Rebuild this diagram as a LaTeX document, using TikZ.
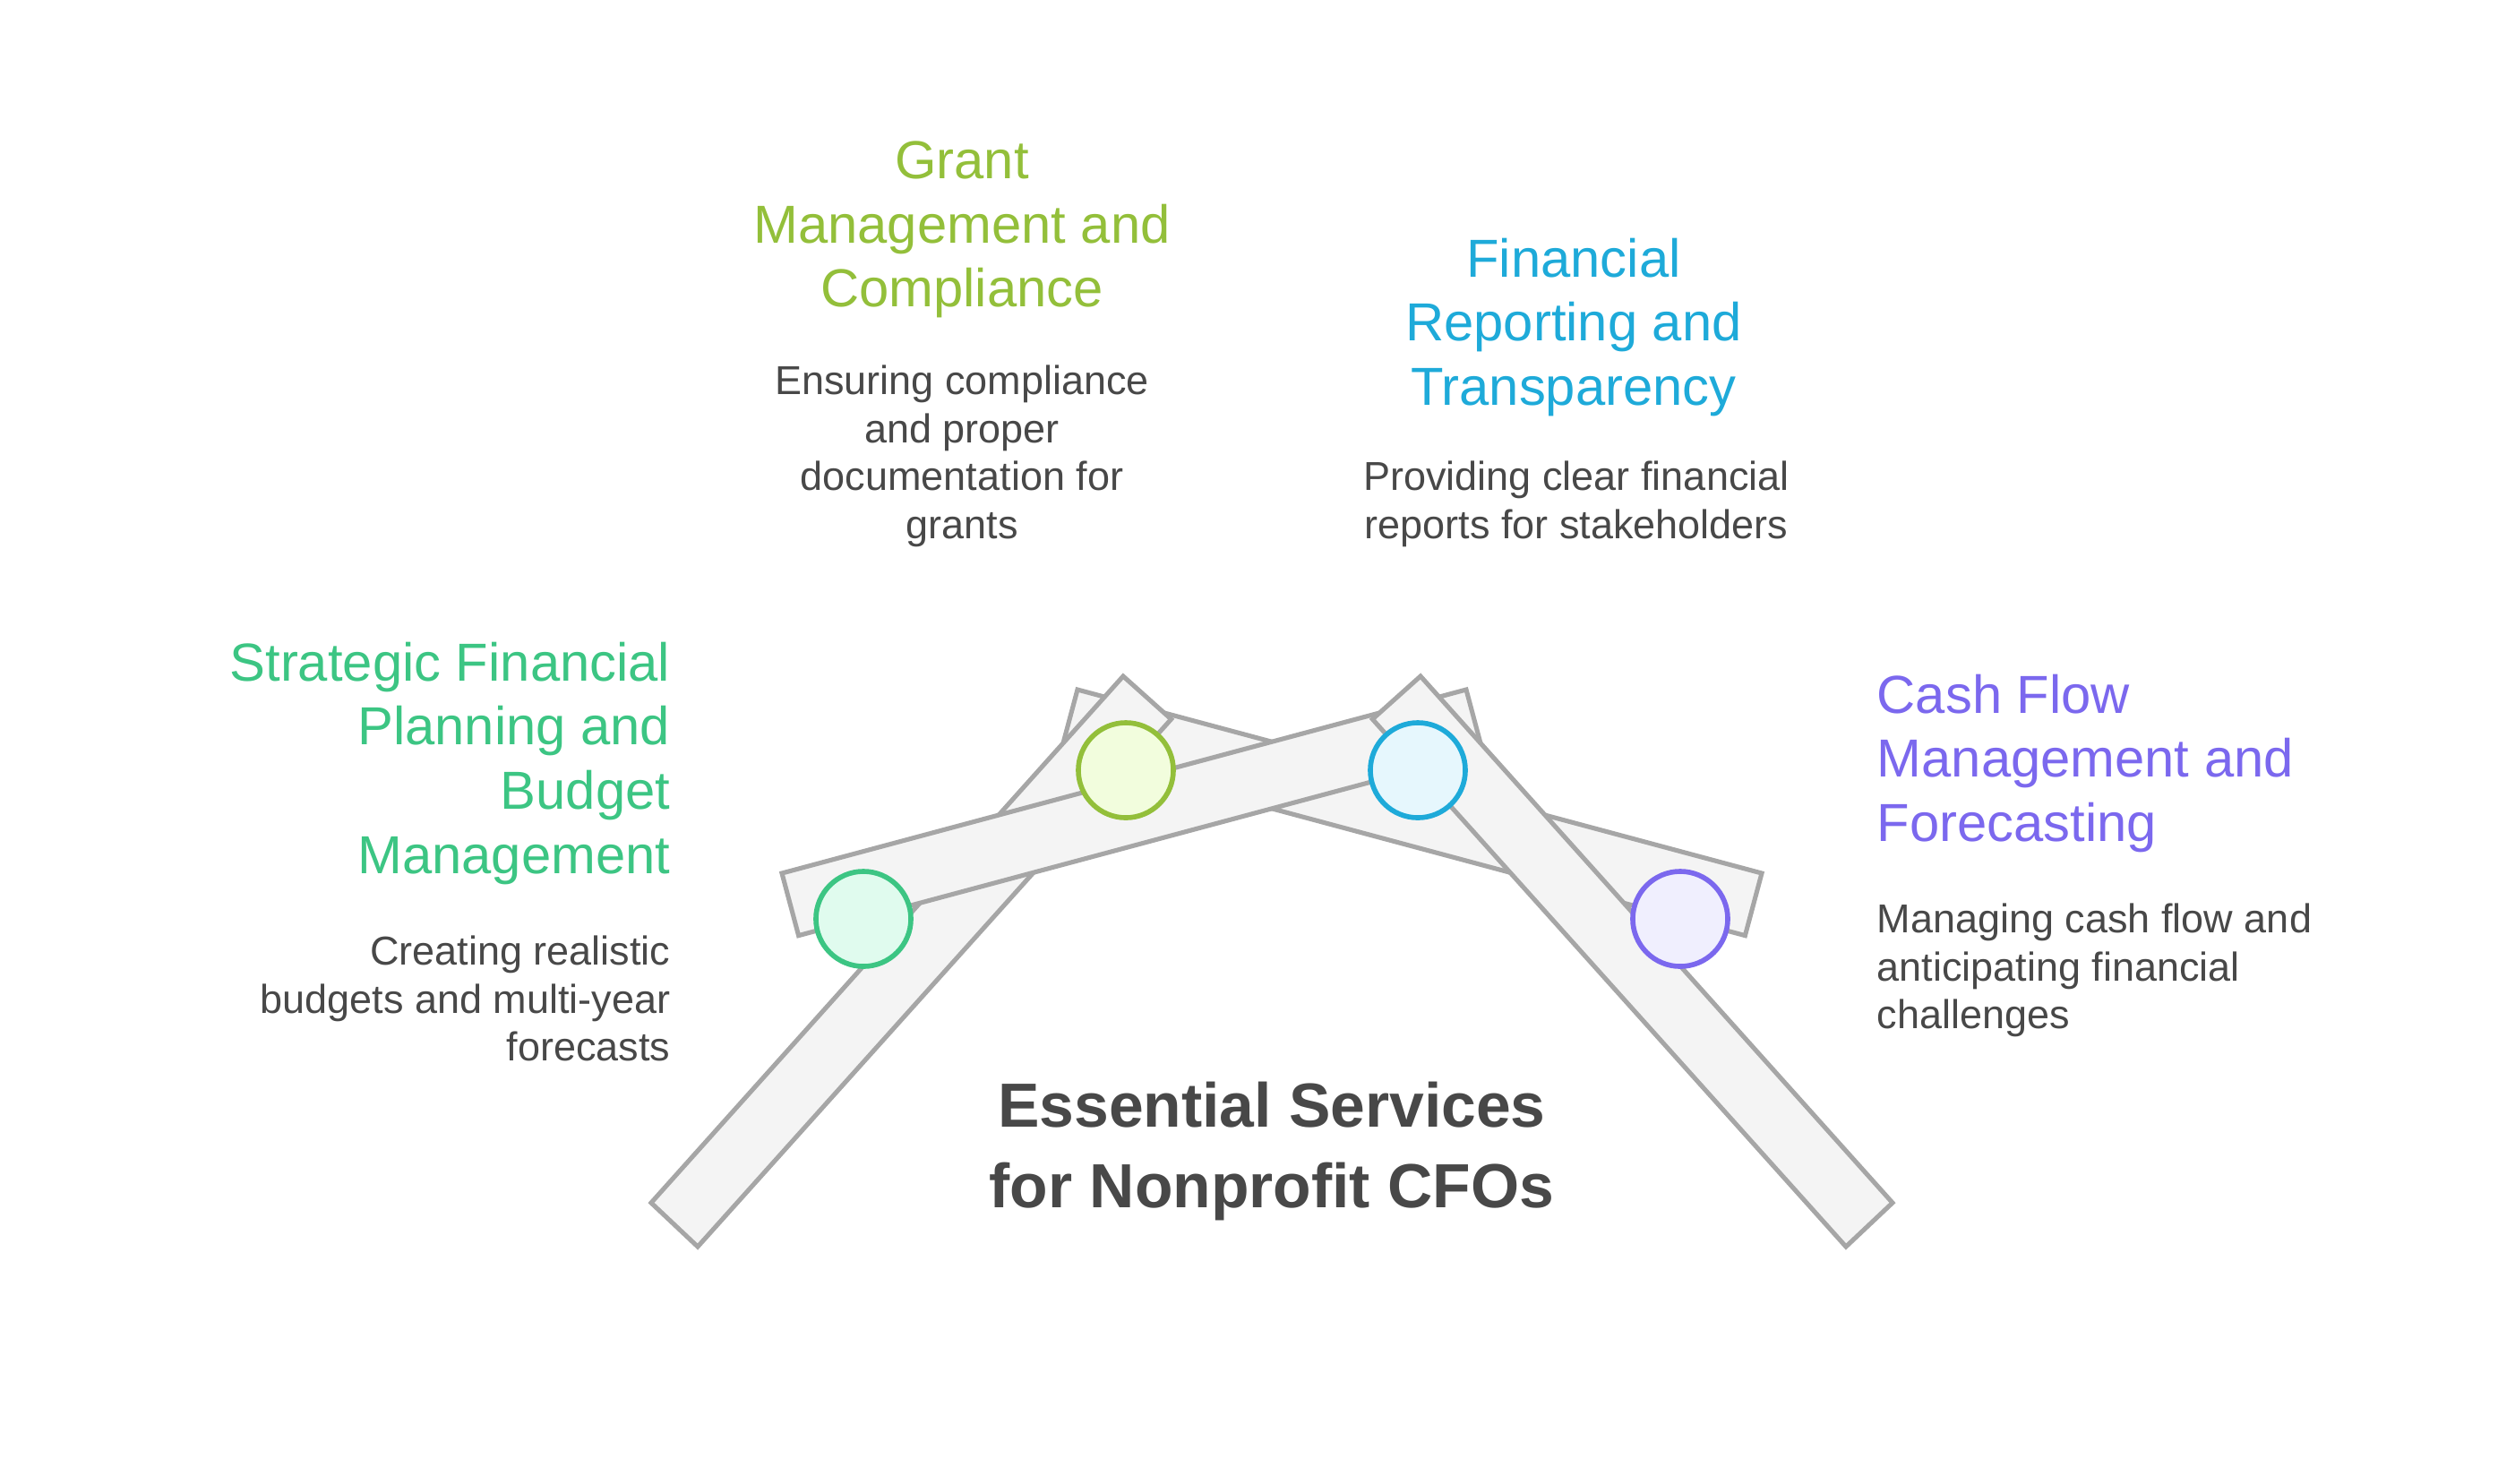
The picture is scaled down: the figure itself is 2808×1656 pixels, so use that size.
\documentclass[tikz,border=0pt]{standalone}
\usepackage{fontspec}
\setmainfont{Liberation Sans}
\usetikzlibrary{positioning}
\definecolor{Ink}{HTML}{484848}
\definecolor{BarFill}{HTML}{F4F4F4}
\definecolor{BarLine}{HTML}{A6A6A6}
\definecolor{Green}{HTML}{3CC583}
\definecolor{GreenSoft}{HTML}{E0FBEE}
\definecolor{Lime}{HTML}{93BF3A}
\definecolor{LimeSoft}{HTML}{F2FDDD}
\definecolor{Sky}{HTML}{1EAAD9}
\definecolor{SkySoft}{HTML}{E6F7FD}
\definecolor{Violet}{HTML}{7B68EE}
\definecolor{VioletSoft}{HTML}{F0EFFE}
\tikzset{
  bar/.style={draw=BarLine,fill=BarFill,line width=1.45pt,line join=miter},
  joint/.style={circle,minimum size=1.06cm,inner sep=0pt,line width=1.6pt},
  head/.style={inner sep=0pt,font=\fontsize{17pt}{20.4pt}\selectfont},
  desc/.style={inner sep=0pt,text=Ink,font=\fontsize{12.8pt}{15.3pt}\selectfont},
  maintitle/.style={inner sep=0pt,text=Ink,align=center,font=\fontsize{19.8pt}{25.6pt}\selectfont\bfseries}
}
\begin{document}
\begin{tikzpicture}[x=0.01cm,y=-0.01cm]
  \useasboundingbox (0,0) rectangle (2808,1656);
  % bars, back to front
  \draw[bar] (1203,770) -- (1967,975) -- (1948.4,1044.6) -- (1184.4,839.6) -- cycle;
  \draw[bar] (727,1343) -- (1254,755) -- (1307.6,803) -- (779,1392) -- cycle;
  \draw[bar] (873,975) -- (1637,770) -- (1655.6,839.6) -- (891.6,1044.6) -- cycle;
  \draw[bar] (2113,1343) -- (1586,755) -- (1532.4,803) -- (2061,1392) -- cycle;

  \node[joint,draw=Green,fill=GreenSoft] (plan) at (964,1026) {};
  \node[joint,draw=Lime,fill=LimeSoft] (grant) at (1257,860) {};
  \node[joint,draw=Sky,fill=SkySoft] (report) at (1583,860) {};
  \node[joint,draw=Violet,fill=VioletSoft] (cash) at (1876,1026) {};

  \node[head,text=Green,align=right,anchor=north east] (planhead) at (749,716)
    {Strategic Financial\\Planning and\\Budget\\Management};
  \node[desc,align=right,anchor=north east] (plandesc) at (749,1044)
    {Creating realistic\\budgets and multi-year\\forecasts};

  \node[head,text=Lime,align=center,anchor=north] (granthead) at (1074,157)
    {Grant\\Management and\\Compliance};
  \node[desc,align=center,anchor=north] (grantdesc) at (1074,407)
    {Ensuring compliance\\and proper\\documentation for\\grants};

  \node[head,text=Sky,align=center,anchor=north] (reporthead) at (1757,265)
    {Financial\\Reporting and\\Transparency};
  \node[desc,align=center,anchor=north] (reportdesc) at (1760,514)
    {Providing clear financial\\reports for stakeholders};

  \node[head,text=Violet,align=left,anchor=north west] (cashhead) at (2095,752)
    {Cash Flow\\Management and\\Forecasting};
  \node[desc,align=left,anchor=north west] (cashdesc) at (2095,1008)
    {Managing cash flow and\\anticipating financial\\challenges};

  \node[maintitle,anchor=north] (title) at (1420,1207)
    {Essential Services\\for Nonprofit CFOs};
\end{tikzpicture}
\end{document}
